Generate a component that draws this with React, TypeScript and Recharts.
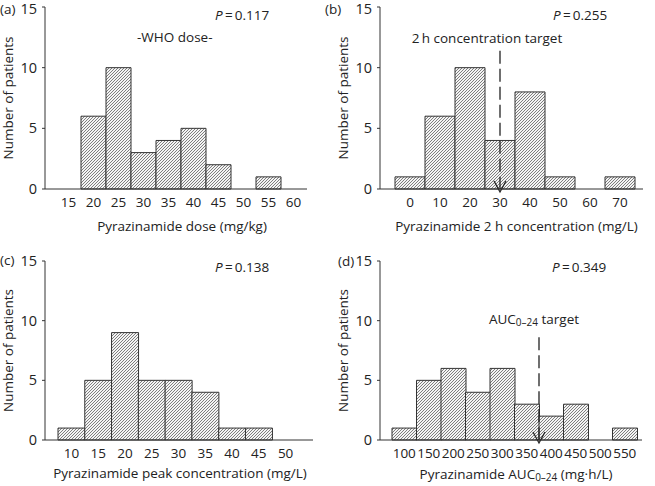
import React from "react";
import { BarChart, Bar, XAxis, YAxis, ReferenceLine, Label } from "recharts";

// bin centres (tick labels) and patient counts per panel
const doseBins = ["15", "20", "25", "30", "35", "40", "45", "50", "55", "60"];
const doseCounts = [0, 6, 10, 3, 4, 5, 2, 0, 1, 0];

const conc2hBins = ["0", "10", "20", "30", "40", "50", "60", "70"];
const conc2hCounts = [1, 6, 10, 4, 8, 1, 0, 1];

const peakBins = ["10", "15", "20", "25", "30", "35", "40", "45", "50"];
const peakCounts = [1, 5, 9, 5, 5, 4, 1, 1, 0];

const aucBins = ["100", "150", "200", "250", "300", "350", "400", "450", "500", "550"];
const aucCounts = [1, 5, 6, 4, 6, 3, 2, 3, 0, 1];

const yTicks = [0, 5, 10, 15];

// targets: 2 h conc. sits in the middle of the "30" bin, AUC target at the right edge of the "350" bin
const conc2hTargetBin = "30";
const conc2hTargetTop = 11.4;
const aucTargetBin = "350";
const aucTargetTop = 8.6;

const INK = "#222";
const LINE = "#333";

const toRows = (bins: string[], counts: number[]) =>
  bins.map((bin, i) => ({ bin, count: counts[i] }));

const makeTargetShape = (text: React.ReactNode, dx: number, dy: number) => (props: any) => {
  const { x1, y1, y2 } = props;
  const top = Math.min(y1, y2);
  const bottom = Math.max(y1, y2);
  const x = x1;
  return (
    <g>
      <line x1={x} y1={top} x2={x} y2={bottom} stroke={INK} strokeWidth={1.3} strokeDasharray="13 5" />
      <path
        d={`M${x - 6},${bottom - 8}L${x},${bottom + 3}L${x + 6},${bottom - 8}`}
        fill="none"
        stroke={INK}
        strokeWidth={1.3}
      />
      <text x={x + dx} y={top - dy} textAnchor="middle" dominantBaseline="central" fontSize={13.5} fill={INK}>
        {text}
      </text>
    </g>
  );
};

interface PanelProps {
  rows: { bin: string; count: number }[];
  left: number;
  top: number;
  width: number;
  height: number;
  marginTop: number;
  marginRight: number;
  padLeft: number;
  padRight: number;
  axisHeight: number;
  xLabel: React.ReactNode;
  xLabelDx: number;
  xLabelDy: number;
  target?: { bin: string; top: number; position: "middle" | "end"; shape: (p: any) => React.ReactElement };
}

function Panel(p: PanelProps) {
  return (
    <div style={{ position: "absolute", left: p.left, top: p.top }}>
      <BarChart
        width={p.width}
        height={p.height}
        data={p.rows}
        barCategoryGap={0}
        barGap={0}
        margin={{ top: p.marginTop, right: p.marginRight, left: 0, bottom: 0 }}
      >
        <defs>
          <pattern id="hatch" patternUnits="userSpaceOnUse" width={3} height={3}>
            <rect width={3} height={3} fill="#f4f4f4" />
            <path d="M-1,1 L1,-1 M0,3 L3,0 M2,4 L4,2" stroke="#707070" strokeWidth={0.9} />
          </pattern>
        </defs>
        <XAxis
          dataKey="bin"
          interval={0}
          tickLine={false}
          height={p.axisHeight}
          padding={{ left: p.padLeft, right: p.padRight }}
          axisLine={{ stroke: LINE }}
          tick={{ fontSize: 13.5, fill: INK }}
        >
          <Label
            content={(lp: any) => {
              const vb = lp.viewBox;
              return (
                <text
                  x={vb.x + vb.width / 2 + p.xLabelDx}
                  y={vb.y + p.xLabelDy}
                  textAnchor="middle"
                  dominantBaseline="central"
                  fontSize={13.5}
                  fill={INK}
                >
                  {p.xLabel}
                </text>
              );
            }}
          />
        </XAxis>
        <YAxis
          domain={[0, 15]}
          ticks={yTicks}
          width={45}
          tickSize={3}
          tickMargin={5}
          axisLine={{ stroke: LINE }}
          tickLine={{ stroke: LINE }}
          tick={{ fontSize: 14.5, fill: INK }}
        >
          <Label
            content={(lp: any) => {
              const vb = lp.viewBox;
              const cx = vb.x + 8;
              const cy = vb.y + vb.height / 2;
              return (
                <text
                  x={cx}
                  y={cy}
                  transform={`rotate(-90 ${cx} ${cy})`}
                  textAnchor="middle"
                  dominantBaseline="central"
                  fontSize={13.5}
                  fill={INK}
                >
                  Number of patients
                </text>
              );
            }}
          />
        </YAxis>
        <Bar dataKey="count" fill="url(#hatch)" stroke={LINE} strokeWidth={1} isAnimationActive={false} />
        {p.target && (
          <ReferenceLine
            position={p.target.position}
            ifOverflow="visible"
            segment={[
              { x: p.target.bin, y: p.target.top },
              { x: p.target.bin, y: 0 },
            ]}
            shape={p.target.shape}
          />
        )}
      </BarChart>
    </div>
  );
}

const note: React.CSSProperties = {
  position: "absolute",
  fontSize: 13.5,
  lineHeight: "14px",
  color: INK,
  whiteSpace: "nowrap",
};

const PVal = ({ v, left, top }: { v: string; left: number; top: number }) => (
  <span style={{ ...note, left, top }}>
    <i>P</i>
    {"\u2009=\u2009" + v}
  </span>
);

const sub = (s: string, after: string) => (
  <>
    <tspan dy={3} fontSize={10}>
      {s}
    </tspan>
    <tspan dy={-3}>{after}</tspan>
  </>
);

export default function App() {
  return (
    <div
      style={{
        position: "absolute",
        left: 0,
        top: 0,
        width: 655,
        height: 486,
        overflow: "hidden",
        background: "#fff",
        fontFamily: "'Open Sans', sans-serif",
      }}
    >
      <Panel
        rows={toRows(doseBins, doseCounts)}
        left={0}
        top={0}
        width={310}
        height={236}
        marginTop={7}
        marginRight={3}
        padLeft={11}
        padRight={1}
        axisHeight={47}
        xLabel="Pyrazinamide dose (mg/kg)"
        xLabelDx={6}
        xLabelDy={37}
      />
      <Panel
        rows={toRows(conc2hBins, conc2hCounts)}
        left={335}
        top={0}
        width={310}
        height={236}
        marginTop={7}
        marginRight={2}
        padLeft={15}
        padRight={8}
        axisHeight={47}
        xLabel="Pyrazinamide 2 h concentration (mg/L)"
        xLabelDx={5}
        xLabelDy={37}
        target={{
          bin: conc2hTargetBin,
          top: conc2hTargetTop,
          position: "middle",
          shape: makeTargetShape("2\u2009h concentration target", -13, 13),
        }}
      />
      <Panel
        rows={toRows(peakBins, peakCounts)}
        left={0}
        top={244}
        width={316}
        height={242}
        marginTop={17}
        marginRight={3}
        padLeft={13}
        padRight={14}
        axisHeight={46}
        xLabel="Pyrazinamide peak concentration (mg/L)"
        xLabelDx={1}
        xLabelDy={33}
      />
      <Panel
        rows={toRows(aucBins, aucCounts)}
        left={335}
        top={244}
        width={310}
        height={242}
        marginTop={17}
        marginRight={3}
        padLeft={12}
        padRight={5}
        axisHeight={46}
        xLabel={<>Pyrazinamide AUC{sub("0–24", " (mg·h/L)")}</>}
        xLabelDx={5}
        xLabelDy={34}
        target={{
          bin: aucTargetBin,
          top: aucTargetTop,
          position: "end",
          shape: makeTargetShape(<>AUC{sub("0–24", " target")}</>, -5, 18),
        }}
      />

      <span style={{ ...note, left: 0, top: 2 }}>(a)</span>
      <PVal v="0.117" left={215} top={8} />
      <span style={{ ...note, left: 137, top: 30 }}>-WHO dose-</span>
      <span style={{ ...note, left: 325, top: 2 }}>(b)</span>
      <PVal v="0.255" left={553} top={8} />
      <span style={{ ...note, left: 0, top: 253 }}>(c)</span>
      <PVal v="0.138" left={215} top={260} />
      <span style={{ ...note, left: 338, top: 254 }}>(d)</span>
      <PVal v="0.349" left={552} top={260} />
    </div>
  );
}
